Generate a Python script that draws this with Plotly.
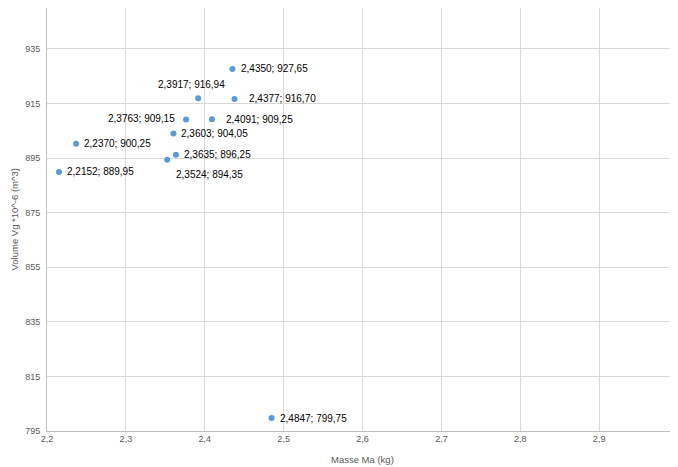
import plotly.graph_objects as go

masse = [2.4350, 2.3917, 2.4377, 2.3763, 2.4091, 2.3603, 2.2370, 2.3635, 2.3524, 2.2152, 2.4847]
volume = [927.65, 916.94, 916.70, 909.15, 909.25, 904.05, 900.25, 896.25, 894.35, 889.95, 799.75]

x_ticks = [2.2, 2.3, 2.4, 2.5, 2.6, 2.7, 2.8, 2.9, 3.0]
y_ticks = [795, 815, 835, 855, 875, 895, 915, 935]

x_title = "Masse Ma (kg)"
y_title = "Volume Vg *10^-6 (m^3)"

# label placement (style): xanchor, yanchor, xshift, yshift
placement = [
    ("left", "middle", 7, 0),
    ("center", "bottom", -7, 6),
    ("left", "middle", 13, 0),
    ("right", "middle", -9, 1),
    ("left", "middle", 12, 0),
    ("left", "middle", 6, 0),
    ("left", "middle", 6, 0),
    ("left", "middle", 6, 0),
    ("left", "top", 7, -7),
    ("left", "middle", 6, 0),
    ("left", "middle", 6, 0),
]

FONT = "Liberation Sans, Arial, sans-serif"

def fmt(v, d):
    return f"{v:.{d}f}".replace(".", ",")

labels = [f"{fmt(x, 4)}; {fmt(y, 2)}" for x, y in zip(masse, volume)]

fig = go.Figure()
fig.add_trace(go.Scatter(
    x=masse, y=volume, mode="markers",
    marker=dict(color="#5B9BD5", size=6),
    hoverinfo="skip", showlegend=False,
))

for x, y, t, (xa, ya, xs, ys) in zip(masse, volume, labels, placement):
    fig.add_annotation(x=x, y=y, text=t, showarrow=False,
                       xanchor=xa, yanchor=ya, xshift=xs, yshift=ys,
                       font=dict(family=FONT, size=10, color="#000000"))

fig.add_annotation(xref="paper", yref="paper", x=0.5, y=0, yshift=-28,
                   xanchor="center", yanchor="middle", showarrow=False,
                   text=x_title, font=dict(family=FONT, size=9.5, color="#595959"))
fig.add_annotation(xref="paper", yref="paper", x=0, y=0.5, xshift=-33,
                   xanchor="center", yanchor="middle", showarrow=False, textangle=-90,
                   text=y_title, font=dict(family=FONT, size=9.5, color="#595959"))

# the page body adds an 8px offset; the figure is sized to fill the rest of the window
fig.update_layout(
    width=670, height=459,
    margin=dict(l=39, r=0, t=0, b=36, autoexpand=False),
    paper_bgcolor="white", plot_bgcolor="white",
    separators=", ",
    font=dict(family=FONT, size=9, color="#595959"),
)
fig.update_xaxes(
    range=[2.2, 3.0], tickvals=x_ticks, showgrid=True, gridcolor="#D9D9D9", gridwidth=1,
    showline=True, linecolor="#BFBFBF", linewidth=1, zeroline=False, automargin=False,
    ticks="", tickfont=dict(family=FONT, size=9, color="#595959"), ticklabelstandoff=-1,
)
fig.update_yaxes(
    range=[795, 950], tickvals=y_ticks, showgrid=True, gridcolor="#D9D9D9", gridwidth=1,
    showline=True, linecolor="#BFBFBF", linewidth=1, zeroline=False, automargin=False,
    ticks="", tickfont=dict(family=FONT, size=9, color="#595959"), ticklabelstandoff=4,
)

fig.write_html("out.html")
